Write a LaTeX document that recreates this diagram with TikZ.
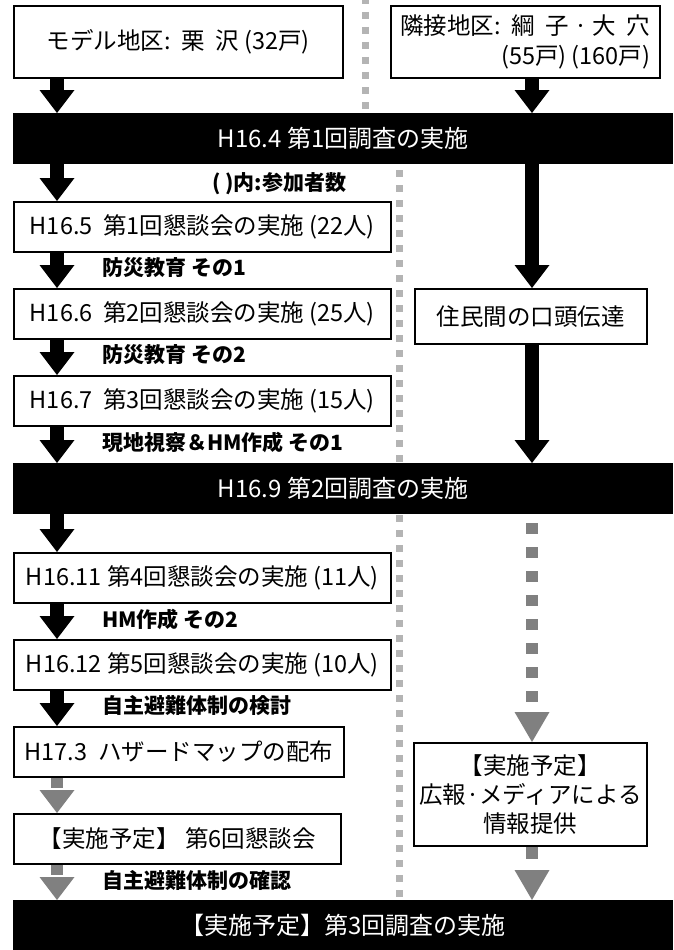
\documentclass[tikz,border=0pt]{standalone}
\usepackage{fontspec}
\setmainfont{Noto Sans CJK JP}
\usetikzlibrary{arrows.meta,backgrounds}
\definecolor{divgray}{HTML}{B4B4B4}
\definecolor{arrgray}{HTML}{808080}
\begin{document}
\begin{tikzpicture}[x=1pt,y=-1pt,
  box/.style={draw=black, line width=1.8pt, fill=white, inner sep=0pt, anchor=north west,
    minimum width=377pt, minimum height=50pt, font=\fontsize{23.5}{29}\selectfont},
  bar/.style={fill=black, text=white, inner sep=0pt, anchor=north west,
    minimum width=660pt, minimum height=51pt, font=\fontsize{24}{28}\selectfont},
  lbl/.style={anchor=west, inner sep=0pt, font=\fontsize{21}{24}\selectfont\bfseries},
  blk/.style={line width=14pt, -{Triangle[width=35pt,length=23pt,line width=0pt]}},
  gry/.style={arrgray, line width=12pt},
  divline/.style={divgray, line width=7pt, dash pattern=on 7pt off 8pt},
]
\useasboundingbox (0,0) rectangle (673,950);

% column positions
\coordinate (LX) at (57,0);
\coordinate (RX) at (532,0);
\coordinate (TD) at (365,0);
\coordinate (MD) at (399,0);

% boxes
\node[box, minimum width=329pt, minimum height=72pt] (b0) at (13,5) {モデル地区:\ \ 栗\ \ 沢\ (32戸)};
\node[box, minimum width=269pt, minimum height=72pt, align=right,
  font=\fontsize{23.5}{30}\selectfont] (b0r) at (390,5) {隣接地区:\ \ 綱\ \ 子\ ·\ 大\ \ 穴\\(55戸)\ (160戸)};

\node[bar] (bar1) at (13,113) {H16.4 第1回調査の実施};
\node[box] (n1) at (13,201) {H16.5\ \ 第1回懇談会の実施 (22人)};
\node[box] (n2) at (13,288) {H16.6\ \ 第2回懇談会の実施 (25人)};
\node[box, minimum width=232pt, minimum height=55pt] (r1) at (414,288) {住民間の口頭伝達};
\node[box] (n3) at (13,375) {H16.7\ \ 第3回懇談会の実施 (15人)};
\node[bar] (bar2) at (13,463) {H16.9 第2回調査の実施};
\node[box] (n4) at (13,552) {H16.11 第4回懇談会の実施 (11人)};
\node[box] (n5) at (13,639) {H16.12 第5回懇談会の実施 (10人)};
\node[box, minimum width=330pt] (n6) at (13,726) {H17.3\ \ ハザードマップの配布};
\node[box, minimum width=233pt, minimum height=103pt, align=center] (r2) at (413,742) {【実施予定】\\広報·メディアによる\\情報提供};
\node[box, minimum width=327pt] (n7) at (13,813) {【実施予定】 第6回懇談会};
\node[bar, minimum height=50pt] (bar3) at (13,900) {【実施予定】第3回調査の実施};

% labels
\node[lbl] (l0) at (212,184) {( )内:参加者数};
\node[lbl] (l1) at (102,268) {防災教育 その1};
\node[lbl] (l2) at (102,355) {防災教育 その2};
\node[lbl] (l3) at (102,442) {現地視察＆HM作成 その1};
\node[lbl] (l4) at (102,619) {HM作成 その2};
\node[lbl] (l5) at (102,706) {自主避難体制の検討};
\node[lbl] (l6) at (102,880) {自主避難体制の確認};

% dividers (behind the bars)
\begin{pgfonlayer}{background}
\fill[white] (0,0) rectangle (673,950);
\draw[divline, dash phase=3pt] (TD) -- (bar1.north -| TD);
\draw[divline, dash phase=9pt] (bar1.south -| MD) -- (bar3.north -| MD);
\end{pgfonlayer}

% black arrows
\draw[blk] (b0.south -| LX) -- (bar1.north -| LX);
\draw[blk] (b0r.south -| RX) -- (bar1.north -| RX);
\draw[blk] (bar1.south -| LX) -- (n1.north -| LX);
\draw[blk] (n1.south -| LX) -- (n2.north -| LX);
\draw[blk] (n2.south -| LX) -- (n3.north -| LX);
\draw[blk] (n3.south -| LX) -- (bar2.north -| LX);
\draw[blk] (bar2.south -| LX) -- (n4.north -| LX);
\draw[blk] (n4.south -| LX) -- (n5.north -| LX);
\draw[blk] (n5.south -| LX) -- (n6.north -| LX);
\draw[blk] (bar1.south -| RX) -- (r1.north -| RX);
\draw[blk] (r1.south -| RX) -- (bar2.north -| RX);

% grey (planned) arrows
\draw[gry, dash pattern=on 10pt off 6pt, -{Triangle[width=35pt,length=23pt,line width=0pt]}] (n6.south -| LX) -- (n7.north -| LX);
\draw[gry, dash pattern=on 10pt off 6pt, -{Triangle[width=35pt,length=23pt,line width=0pt]}] (n7.south -| LX) -- (bar3.north -| LX);
\draw[gry, dash pattern=on 11pt off 13pt, dash phase=15pt, -{Triangle[width=35pt,length=30pt,line width=0pt]}] (bar2.south -| RX) -- (r2.north -| RX);
\draw[gry, dash pattern=on 12pt off 20pt, -{Triangle[width=35pt,length=30pt,line width=0pt]}] (r2.south -| RX) -- (bar3.north -| RX);
\end{tikzpicture}
\end{document}
